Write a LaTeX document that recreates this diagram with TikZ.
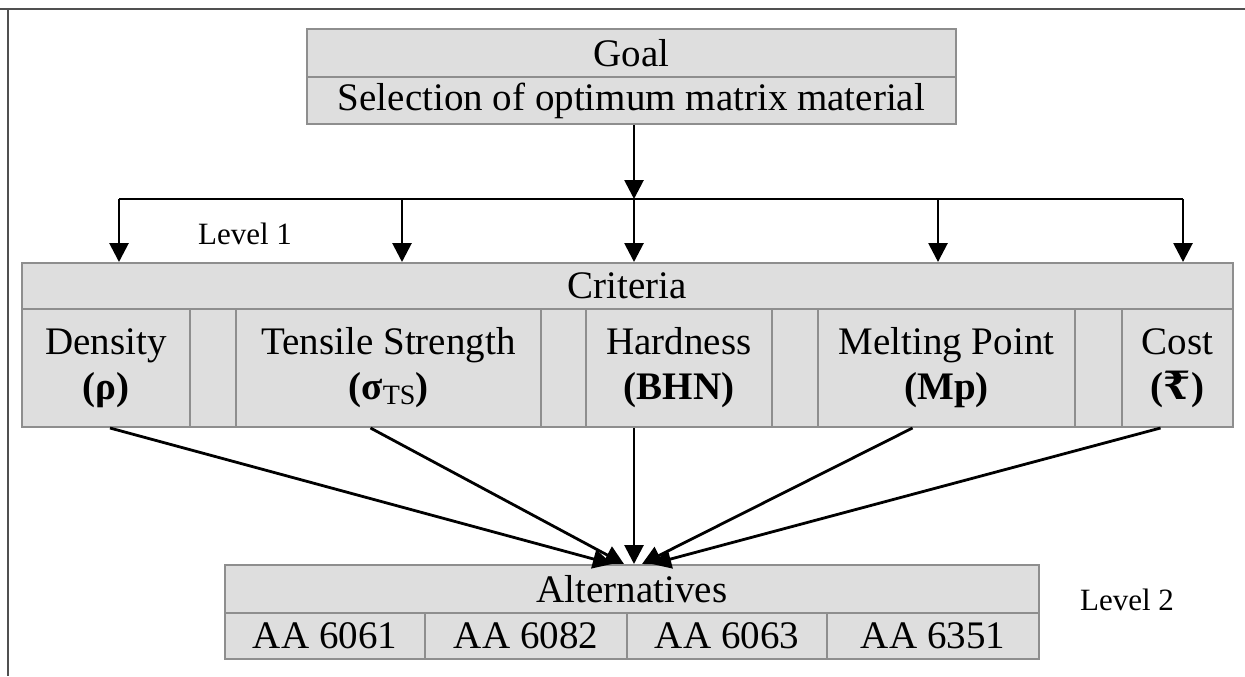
\documentclass[tikz,border=0pt]{standalone}
\usepackage{fontspec}
\setmainfont{Liberation Serif}
\newfontfamily\rupeefont{DejaVu Serif}
\usepackage{xcolor}
\usepackage{tikz}
\usetikzlibrary{arrows.meta}

\definecolor{boxfill}{HTML}{DEDEDE}
\definecolor{boxline}{HTML}{8E8E8E}
\definecolor{frameline}{HTML}{505050}

\tikzset{
  cell/.style={draw=boxline, fill=boxfill, line width=1pt, inner sep=0pt,
    align=center, font=\fontsize{19.5}{22.5}\selectfont},
  arr/.style={-{Triangle[length=9.5pt,width=9.5pt]}, line width=1.4pt},
  lvl/.style={font=\fontsize{15.5}{18}\selectfont}
}

\begin{document}
\begin{tikzpicture}[x=0.5pt,y=-0.5pt]
      \useasboundingbox (0,0) rectangle (1245,676);
      % frame
      \draw[frameline, line width=1pt] (0,9) -- (1245,9);
      \draw[frameline, line width=1pt] (8,9) -- (8,676);

      % Goal box
      \node[cell, minimum width=324.5pt, minimum height=24pt] (goal) at (631.5,53) {Goal};
      \node[cell, minimum width=324.5pt, minimum height=23.5pt] (sel) at (631.5,100.5) {Selection of optimum matrix material};

      % Criteria box
      \node[cell, minimum width=605.5pt, minimum height=23pt] (crit) at (627.5,286) {Criteria};
      \node[cell, minimum width=84pt, minimum height=59pt] (dens) at (106,368) {Density\\\textbf{(ρ)}};
      \node[cell, minimum width=23pt, minimum height=59pt] (gap1) at (213,368) {};
      \node[cell, minimum width=152.5pt, minimum height=59pt] (tens) at (388.5,368) {Tensile Strength\\\textbf{(σ}{\fontsize{14}{14}\selectfont\raisebox{-0.35ex}{TS}}\textbf{)}};
      \node[cell, minimum width=22.5pt, minimum height=59pt] (gap2) at (563.5,368) {};
      \node[cell, minimum width=93pt, minimum height=59pt] (hard) at (679,368) {Hardness\\\textbf{(BHN)}};
      \node[cell, minimum width=23pt, minimum height=59pt] (gap3) at (795,368) {};
      \node[cell, minimum width=128.5pt, minimum height=59pt] (melt) at (946.5,368) {Melting Point\\\textbf{(Mp)}};
      \node[cell, minimum width=23.5pt, minimum height=59pt] (gap4) at (1098.5,368) {};
      \node[cell, minimum width=55.5pt, minimum height=59pt] (cost) at (1177.5,368) {Cost\\\textbf{({\rupeefont ₹})}};

      % Alternatives box
      \node[cell, minimum width=407pt, minimum height=24pt] (alt) at (632,589) {Alternatives};
      \node[cell, minimum width=100pt, minimum height=23pt] (aa1) at (325,636) {AA 6061};
      \node[cell, minimum width=101pt, minimum height=23pt] (aa2) at (526,636) {AA 6082};
      \node[cell, minimum width=100pt, minimum height=23pt] (aa3) at (727,636) {AA 6063};
      \node[cell, minimum width=106pt, minimum height=23pt] (aa4) at (933,636) {AA 6351};

      % Level labels
      \node[lvl] (lvl1) at (245,234) {Level 1};
      \node[lvl] (lvl2) at (1127,600) {Level 2};

      % Goal to criteria
      \coordinate (busL) at (119,199);
      \coordinate (busR) at (1183,199);
      \draw[arr] (sel.south -| 634,0) -- (634,199);
      \draw[line width=1.4pt] (busL) -- (busR);
      \foreach \x [count=\i] in {119,402,634,938,1183} {
        \coordinate (d\i) at (\x,199);
        \draw[arr] (d\i) -- (d\i |- crit.north);
      }

      % Criteria to alternatives
      \draw[arr] ([xshift=2pt]dens.south) -- ([xshift=-10pt]alt.north);
      \draw[arr] ([xshift=-9pt]tens.south) -- ([xshift=-4pt]alt.north);
      \draw[arr] ([xshift=-22.5pt]hard.south) -- ([xshift=1pt]alt.north);
      \draw[arr] ([xshift=-17pt]melt.south) -- ([xshift=5pt]alt.north);
      \draw[arr] ([xshift=-8.5pt]cost.south) -- ([xshift=10pt]alt.north);
    \end{tikzpicture}
\end{document}
